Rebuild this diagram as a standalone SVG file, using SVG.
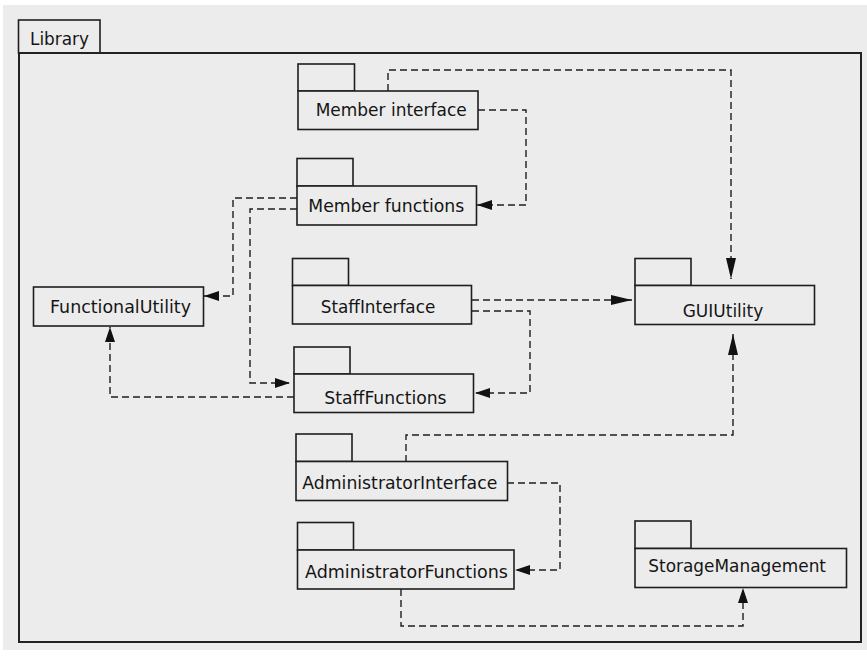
<svg xmlns="http://www.w3.org/2000/svg" width="867" height="659" viewBox="0 0 867 659">
<style>
.box{fill:#ececec;stroke:#1e1e1e;stroke-width:1.6}
.frame{fill:none;stroke:#222;stroke-width:2}
.lbl{font-family:"DejaVu Sans",sans-serif;font-size:17px;fill:#151515}
.con{fill:none;stroke:#1e1e1e;stroke-width:1.4;stroke-dasharray:7 4}
</style>
<defs>
<marker id="a" markerUnits="userSpaceOnUse" markerWidth="15" markerHeight="10" refX="15" refY="5" orient="auto"><path d="M0,0 L15,5 L0,10 z" fill="#111"/></marker>
<marker id="b" markerUnits="userSpaceOnUse" markerWidth="21" markerHeight="10" refX="21" refY="5" orient="auto"><path d="M0,0 L21,5 L0,10 z" fill="#111"/></marker>
</defs>
<rect x="0" y="0" width="867" height="659" fill="#ffffff"/>
<rect x="3" y="5" width="864" height="645" fill="#ececec"/>
<g id="library">
<rect class="box" x="18.5" y="20" width="81.5" height="33"/>
<rect class="frame" x="19" y="53" width="842" height="589"/>
<text class="lbl" x="30" y="45" textLength="59" lengthAdjust="spacingAndGlyphs">Library</text>
</g>
<g id="connectors">
<path class="con" d="M388,91 V70 H731 V279" marker-end="url(#b)"/>
<path class="con" d="M478,110 H526 V205 H477" marker-end="url(#a)"/>
<path class="con" d="M297,198 H233 V296 H204" marker-end="url(#a)"/>
<path class="con" d="M297,209 H250 V383 H290" marker-end="url(#a)"/>
<path class="con" d="M472,300 H632" marker-end="url(#b)"/>
<path class="con" d="M472,311 H530 V393 H475" marker-end="url(#a)"/>
<path class="con" d="M294,397 H110 V327" marker-end="url(#a)"/>
<path class="con" d="M406,462 V435 H733 V334" marker-end="url(#b)"/>
<path class="con" d="M507,483 H560 V570 H515" marker-end="url(#a)"/>
<path class="con" d="M401,589 V626 H743 V588" marker-end="url(#a)"/>
</g>
<g id="member-interface">
<rect class="box" x="298" y="64" width="56.5" height="27"/>
<rect class="box" x="298" y="91" width="180" height="38.5"/>
<text class="lbl" x="315.7" y="115.7" textLength="151" lengthAdjust="spacingAndGlyphs">Member interface</text>
</g>
<g id="member-functions">
<rect class="box" x="297" y="158.5" width="56" height="27.5"/>
<rect class="box" x="297" y="186" width="179.5" height="39"/>
<text class="lbl" x="308.3" y="211.7" textLength="156" lengthAdjust="spacingAndGlyphs">Member functions</text>
</g>
<g id="functional-utility">
<rect class="box" x="33.5" y="287" width="170" height="39"/>
<text class="lbl" x="50" y="312.7" textLength="141" lengthAdjust="spacingAndGlyphs">FunctionalUtility</text>
</g>
<g id="staff-interface">
<rect class="box" x="292.5" y="258.5" width="56" height="27"/>
<rect class="box" x="292.5" y="285.5" width="179" height="38.5"/>
<text class="lbl" x="320.7" y="312.7" textLength="114.6" lengthAdjust="spacingAndGlyphs">StaffInterface</text>
</g>
<g id="staff-functions">
<rect class="box" x="294" y="347" width="56" height="27"/>
<rect class="box" x="294" y="374" width="179.5" height="38.5"/>
<text class="lbl" x="324.3" y="404.3" textLength="122.3" lengthAdjust="spacingAndGlyphs">StaffFunctions</text>
</g>
<g id="gui-utility">
<rect class="box" x="635" y="258.5" width="56" height="27"/>
<rect class="box" x="635" y="285.5" width="179.5" height="39"/>
<text class="lbl" x="682.7" y="317.3" textLength="80.6" lengthAdjust="spacingAndGlyphs">GUIUtility</text>
</g>
<g id="administrator-interface">
<rect class="box" x="296" y="434" width="56" height="27.5"/>
<rect class="box" x="296" y="461.5" width="211.5" height="39"/>
<text class="lbl" x="302.3" y="489.3" textLength="195" lengthAdjust="spacingAndGlyphs">AdministratorInterface</text>
</g>
<g id="administrator-functions">
<rect class="box" x="297.5" y="522.5" width="56" height="27.5"/>
<rect class="box" x="297.5" y="550" width="216.5" height="39"/>
<text class="lbl" x="305" y="578.3" textLength="203" lengthAdjust="spacingAndGlyphs">AdministratorFunctions</text>
</g>
<g id="storage-management">
<rect class="box" x="635" y="521" width="56" height="27.5"/>
<rect class="box" x="635" y="548.5" width="211.5" height="39"/>
<text class="lbl" x="648.3" y="571.7" textLength="177.7" lengthAdjust="spacingAndGlyphs">StorageManagement</text>
</g>
</svg>
